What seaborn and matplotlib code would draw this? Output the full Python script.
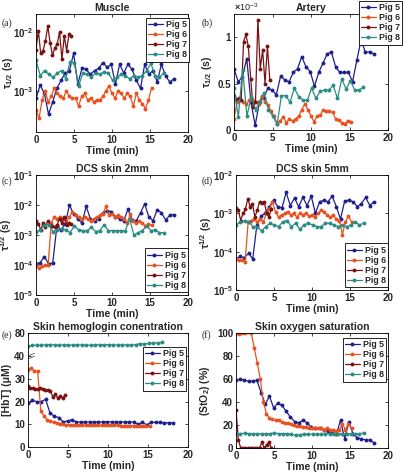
import numpy as np
import pandas as pd
import matplotlib
matplotlib.use("Agg")
import matplotlib.pyplot as plt
from matplotlib.lines import Line2D
from matplotlib.ticker import FixedLocator, FuncFormatter, NullLocator
import seaborn as sns

# --- data -----------------------------------------------------------------
pigs = ["Pig 5", "Pig 6", "Pig 7", "Pig 8"]

# sampling times (min) for each pig
t5 = [0.0, 0.55, 1.1, 1.65, 2.2, 2.75, 3.3, 3.85, 4.4, 4.95, 5.5, 6.05, 6.6, 7.15, 7.7, 8.25, 8.8,
      9.35, 9.9, 10.45, 11.0, 11.55, 12.1, 12.65, 13.2, 13.75, 14.3, 14.85, 15.4, 15.95, 16.5,
      17.05, 17.6, 18.15]
t6 = [0.0, 0.4, 0.8, 1.2, 1.6, 2.0, 2.4, 2.8, 3.2, 3.6, 4.0, 4.4, 4.8, 5.2, 5.6, 6.0, 6.4, 6.8,
      7.2, 7.6, 8.0, 8.4, 8.8, 9.2, 9.6, 10.0, 10.4, 10.8, 11.2, 11.6, 12.0, 12.4, 12.8, 13.2,
      13.6, 14.0, 14.4, 14.8, 15.2]
t7 = [0.0, 0.31, 0.62, 0.93, 1.24, 1.55, 1.86, 2.17, 2.48, 2.79, 3.1, 3.41, 3.72, 4.03, 4.34, 4.65]
t8 = [0.0, 0.56, 1.12, 1.68, 2.24, 2.8, 3.36, 3.92, 4.48, 5.04, 5.6, 6.16, 6.72, 7.28, 7.84, 8.4,
      8.96, 9.52, 10.08, 10.64, 11.2, 11.76, 12.32, 12.88, 13.44, 14.0, 14.56, 15.12, 15.68,
      16.24, 16.8]

# (a) Muscle, tau_1/2 in ms
muscle5 = [0.74, 1.25, 0.9, 0.4, 0.65, 1.1, 1.5, 2.0, 2.2, 4.3, 1.3, 2.4, 2.3, 1.9, 2.2, 2.4, 3.0,
           2.5, 2.8, 1.3, 2.8, 2.0, 2.8, 2.3, 1.5, 1.1, 2.8, 1.9, 2.2, 1.4, 2.8, 1.8, 1.4, 1.6]
muscle6 = [0.48, 0.34, 0.7, 1.0, 0.65, 0.8, 1.1, 0.9, 0.8, 0.75, 1.0, 0.8, 0.75, 0.75, 0.55, 0.8,
           0.9, 0.7, 0.75, 0.65, 0.7, 0.7, 0.8, 1.0, 1.2, 0.9, 0.75, 1.0, 0.9, 0.75, 0.9, 0.8,
           0.55, 0.9, 0.7, 0.6, 0.5, 0.7, 1.1]
muscle7 = [5.0, 10.5, 4.3, 4.8, 7.0, 12.5, 6.5, 4.0, 5.3, 6.2, 10.0, 3.4, 8.5, 4.8, 9.3, 8.5]
muscle8 = [3.3, 1.8, 2.2, 1.9, 1.7, 2.0, 2.2, 1.6, 3.1, 3.0, 1.2, 2.0, 1.9, 1.7, 2.0, 1.9, 2.1,
           2.0, 1.5, 1.7, 1.9, 1.8, 1.6, 1.8, 1.7, 1.8, 2.2, 2.9, 1.8, 1.7, 2.0]

# (b) Artery, tau_1/2 in ms
artery5 = [0.66, 0.52, 0.57, 0.77, 0.30, 0.05, 0.30, 0.35, 0.45, 0.43, 0.38, 0.58, 0.54, 0.52,
           0.62, 0.66, 0.79, 0.68, 0.63, 0.47, 0.62, 0.72, 0.82, 0.84, 0.68, 0.62, 0.62, 0.62,
           0.52, 0.75, 0.97, 0.84, 0.84, 0.82]
artery6 = [0.12, 0.30, 0.32, 0.30, 0.28, 0.32, 0.33, 0.30, 0.28, 0.37, 0.30, 0.27, 0.20, 0.15,
           0.07, 0.10, 0.14, 0.08, 0.12, 0.10, 0.12, 0.15, 0.22, 0.28, 0.22, 0.15, 0.09, 0.15,
           0.16, 0.22, 0.20, 0.20, 0.19, 0.12, 0.11, 0.08, 0.07, 0.10, 0.09]
artery7 = [0.37, 0.33, 0.34, 0.32, 0.95, 1.03, 0.90, 0.55, 0.25, 0.30, 1.19, 0.66, 0.86, 0.50,
           0.90, 0.54]
artery8 = [0.45, 0.14, 0.65, 0.15, 0.36, 0.22, 0.30, 0.40, 0.22, 0.15, 0.06, 0.37, 0.37, 0.30,
           0.45, 0.36, 0.32, 0.32, 0.45, 0.34, 0.42, 0.43, 0.43, 0.48, 0.34, 0.55, 0.44, 0.53,
           0.43, 0.43, 0.46]

# (c) DCS skin 2mm, ms
skin2_5 = [0.11, 0.12, 0.19, 0.11, 0.115, 2.0, 1.5, 2.4, 10.0, 5.0, 3.5, 2.5, 9.0, 3.5, 3.0, 3.5,
           5.5, 6.5, 6.0, 4.0, 3.5, 3.0, 7.2, 3.2, 3.0, 5.5, 11.0, 4.0, 3.0, 7.0, 5.5, 3.2, 4.5, 4.8]
skin2_6 = [0.09, 0.08, 0.09, 0.10, 0.10, 2.5, 4.0, 3.5, 4.0, 3.5, 3.0, 4.0, 6.0, 4.5, 4.0, 3.5,
           4.0, 3.5, 3.0, 3.5, 4.0, 4.5, 5.0, 9.0, 4.5, 5.0, 4.0, 4.5, 4.0, 3.5, 2.5, 5.0, 3.0,
           2.5, 3.0, 2.5, 2.0, 2.3, 2.2]
skin2_7 = [3.0, 2.4, 1.5, 2.5, 1.8, 3.0, 2.2, 2.0, 1.8, 2.2, 3.5, 2.5, 4.0, 2.2, 2.5, 2.3]
skin2_8 = [1.3, 1.5, 2.2, 2.2, 1.3, 1.5, 1.6, 1.5, 1.2, 2.0, 1.5, 1.4, 1.4, 1.8, 1.3, 1.4, 2.2,
           1.4, 1.4, 1.4, 1.4, 1.4, 3.5, 1.0, 1.2, 1.4, 2.0, 1.4, 1.5, 1.2, 1.2]

# (d) DCS skin 5mm, ms
skin5_5 = [0.065, 0.075, 0.07, 0.09, 0.065, 0.5, 0.85, 1.0, 1.5, 2.2, 1.5, 1.4, 3.5, 1.6, 2.5,
           1.5, 2.6, 1.6, 2.8, 1.0, 2.0, 2.2, 2.0, 2.8, 1.5, 0.7, 2.1, 2.2, 2.0, 1.5, 1.8, 2.6,
           1.6, 2.0]
skin5_6 = [0.065, 0.06, 0.06, 0.055, 0.6, 0.65, 0.7, 0.6, 0.7, 0.6, 1.0, 1.3, 2.0, 1.1, 0.8, 0.9,
           1.0, 1.1, 0.9, 1.0, 0.8, 1.0, 0.9, 1.0, 0.85, 0.9, 0.8, 1.0, 1.2, 1.1, 0.9, 0.8, 0.9,
           0.7, 0.65, 0.28, 0.6, 0.85, 0.6]
skin5_7 = [1.4, 1.2, 0.65, 1.0, 1.3, 2.4, 1.5, 1.8, 0.8, 1.2, 2.0, 1.9, 2.0, 1.0, 0.8, 1.3]
skin5_8 = [0.5, 0.6, 0.65, 0.6, 0.45, 0.45, 0.35, 0.45, 0.55, 0.5, 0.45, 0.6, 0.65, 0.45, 0.55,
           0.38, 0.5, 0.55, 0.5, 0.45, 0.45, 0.55, 0.55, 0.5, 0.45, 0.5, 0.45, 0.5, 0.6, 0.5, 0.55]

# (e) [HbT] in uM
hbt5 = [19.5, 20.5, 20.0, 20.0, 21.0, 15.0, 13.5, 13.0, 11.0, 11.5, 12.0, 11.0, 11.0, 11.0, 11.0,
        11.0, 11.0, 11.0, 11.2, 11.0, 11.0, 11.0, 11.0, 11.0, 11.0, 10.0, 10.8, 9.8, 11.0, 10.8,
        10.8, 10.7, 10.6, 10.5]
hbt6 = [34.0, 35.0, 33.5, 33.5, 16.0, 13.5, 12.0, 11.3, 10.8, 10.5, 10.2, 10.0, 9.8, 9.7, 9.7,
        9.6, 9.5, 9.5, 9.5, 9.5, 9.5, 9.5, 9.5, 9.5, 9.5, 9.5, 9.5, 9.5, 9.5, 9.4, 9.4, 9.4, 9.4,
        9.4, 9.3, 9.3, 9.3, 9.3, 9.2]
hbt7 = [27.0, 26.0, 25.8, 25.5, 25.5, 25.8, 25.5, 25.2, 25.0, 24.8, 22.0, 23.5, 21.5, 22.5, 21.5,
        22.8]
hbt8 = [57.0, 59.0, 59.0, 58.5, 60.0, 60.0, 59.5, 59.0, 59.5, 59.5, 59.0, 59.5, 59.5, 59.0, 59.0,
        59.5, 60.0, 59.5, 60.0, 59.5, 59.0, 59.5, 59.5, 59.0, 60.0, 61.5, 61.0, 62.0, 62.5, 63.0,
        64.0]

# (f) StO2 in %
sto5 = [59, 60, 59, 58, 58, 59, 48, 38, 45, 35, 39, 37, 32, 27, 23, 22, 24, 22, 18, 17, 17, 16,
        15, 13, 12, 24, 8, 23, 12, 9, 8, 7, 7, 4.5]
sto6 = [100, 99, 100, 100, 101, 100, 87, 74, 60, 40, 30, 26, 25, 24, 24, 23, 22, 22, 21, 20, 19,
        19, 18, 18, 17, 17, 17, 17, 17, 16, 17, 16, 16, 15, 16, 21, 16, 21, 17]
sto7 = [33, 7, 0, 0, 0, 0, 0, 0, 0, 0, 0, 5, 0, 3, 5, 0]
sto8 = [12.5, 12.5, 12.8, 12.5, 12.5, 12.0, 12.5, 12.5, 12.5, 13.0, 12.5, 12.5, 12.5, 12.0, 11.0,
        11.5, 12.0, 12.0, 12.0, 12.0, 12.0, 12.0, 12.5, 12.5, 12.0, 12.5, 12.5, 12.5, 12.5, 12.5,
        13.0]

times = [t5, t6, t7, t8]
colors = ["#1f1f8c", "#e8521f", "#7a1212", "#2a8c84"]

# --- style ----------------------------------------------------------------
sns.set_style("ticks")
plt.rcParams["font.family"] = ["Liberation Sans", "DejaVu Sans"]
plt.rcParams["font.weight"] = "bold"
plt.rcParams["mathtext.fontset"] = "custom"
plt.rcParams["mathtext.rm"] = "Liberation Sans:bold"
plt.rcParams["mathtext.it"] = "Liberation Sans:italic:bold"
plt.rcParams["mathtext.bf"] = "Liberation Sans:bold"
plt.rcParams["mathtext.default"] = "rm"

W, H = 403, 474
fig = plt.figure(figsize=(W / 100, H / 100), dpi=100)


def px_axes(left, top, right, bottom):
    ax = fig.add_axes([left / W, 1 - bottom / H, (right - left) / W, (bottom - top) / H])
    ax._px = (left, right)
    return ax


def ylab(ax, text, xc):
    # place the y label so that its centre sits at pixel column xc
    left, right = ax._px
    ax.set_ylabel(text, fontsize=7.5, fontweight="bold")
    ax.yaxis.set_label_coords((xc + 4.5 - left) / (right - left), 0.5)


def draw(ax, series, scale=1.0):
    frames = []
    for pig, t, v in zip(pigs, times, series):
        frames.append(pd.DataFrame({"Time": t, "value": np.asarray(v, float) * scale, "pig": pig}))
    df = pd.concat(frames, ignore_index=True)
    sns.lineplot(data=df, x="Time", y="value", hue="pig", hue_order=pigs, palette=colors,
                 estimator=None, sort=False, marker="o", markersize=2.8, markeredgewidth=0,
                 linewidth=0.9, legend=False, ax=ax)
    ax.set_xlim(0, 20)
    ax.xaxis.set_major_locator(FixedLocator([0, 5, 10, 15, 20]))
    ax.set_xlabel("Time (min)", fontsize=7.5, fontweight="bold", labelpad=1)
    ax.tick_params(direction="in", length=2.5, width=0.6, top=True, right=True,
                   labelsize=7, pad=2)
    for s in ax.spines.values():
        s.set_linewidth(0.6)
        s.set_color("black")


handles = [Line2D([], [], color=c, marker="o", markersize=2.8, markeredgewidth=0, lw=0.9)
           for c in colors]


def legend(ax, loc, x, y):
    leg = ax.legend(handles, pigs, loc=loc, bbox_to_anchor=(x / W, 1 - y / H),
                    bbox_transform=fig.transFigure, frameon=True, fancybox=False,
                    edgecolor="black", framealpha=1, fontsize=6.3, handlelength=1.7,
                    handletextpad=0.35, labelspacing=0.12, borderpad=0.25, borderaxespad=0)
    leg.get_frame().set_linewidth(0.6)


def panel_label(x, y, s):
    fig.text(x / W, 1 - y / H, s, fontsize=7, fontweight="normal",
             family="Liberation Serif", va="center", ha="left")


# (a) Muscle
ax = px_axes(36, 14, 188, 132)
ax.set_yscale("log")
draw(ax, [muscle5, muscle6, muscle7, muscle8], 1e-3)
ax.set_ylim(2e-4, 2e-2)
ax.yaxis.set_major_locator(FixedLocator([1e-3, 1e-2]))
ax.yaxis.set_minor_locator(NullLocator())
ylab(ax, r"$\tau_{1/2}$ (s)", 11)
ax.set_title("Muscle", fontsize=7.5, fontweight="bold", pad=2)
legend(ax, "upper right", 189, 18)
panel_label(2, 23, "(a)")

# (b) Artery
ax = px_axes(234, 14, 388, 130)
draw(ax, [artery5, artery6, artery7, artery8])
ax.set_ylim(0, 1.25)
ax.yaxis.set_major_locator(FixedLocator([0, 0.5, 1]))
ax.yaxis.set_major_formatter(FuncFormatter(lambda v, p: f"{v:g}"))
ylab(ax, r"$\tau_{1/2}$ (s)", 209)
ax.set_title("Artery", fontsize=7.5, fontweight="bold", pad=2)
ax.text(0.0, 1.01, r"$\times\mathregular{10^{-3}}$", transform=ax.transAxes,
        fontsize=6.5, fontweight="normal", ha="left", va="bottom")
legend(ax, "upper right", 402, 1)
panel_label(202, 23, "(b)")

# (c) DCS skin 2mm
ax = px_axes(36, 175, 188, 295)
ax.set_yscale("log")
draw(ax, [skin2_5, skin2_6, skin2_7, skin2_8], 1e-3)
ax.set_ylim(1e-5, 1e-1)
ax.yaxis.set_major_locator(FixedLocator([1e-5, 1e-4, 1e-3, 1e-2, 1e-1]))
ax.yaxis.set_minor_locator(NullLocator())
ylab(ax, r"$\tau^{1/2}$ (s)", 10)
ax.set_title("DCS skin 2mm", fontsize=7.5, fontweight="bold", pad=2)
legend(ax, "lower right", 188, 292)
panel_label(2, 181, "(c)")

# (d) DCS skin 5mm
ax = px_axes(236, 175, 388, 290)
ax.set_yscale("log")
draw(ax, [skin5_5, skin5_6, skin5_7, skin5_8], 1e-3)
ax.set_ylim(1e-5, 1e-2)
ax.yaxis.set_major_locator(FixedLocator([1e-5, 1e-4, 1e-3, 1e-2]))
ax.yaxis.set_minor_locator(NullLocator())
ylab(ax, r"$\tau^{1/2}$ (s)", 210)
ax.set_title("DCS skin 5mm", fontsize=7.5, fontweight="bold", pad=2)
legend(ax, "lower right", 388, 287)
panel_label(202, 181, "(d)")


# (e) HbT, y axis compressed above 40
def fwd(y):
    y = np.asarray(y, dtype=float)
    return np.where(y <= 40, y, 40 + (y - 40) * 0.256)


def inv(y):
    y = np.asarray(y, dtype=float)
    return np.where(y <= 40, y, 40 + (y - 40) / 0.256)


ax = px_axes(28, 333, 188, 447)
ax.set_yscale("function", functions=(fwd, inv))
draw(ax, [hbt5, hbt6, hbt7, hbt8])
ax.set_ylim(0, 80)
ax.yaxis.set_major_locator(FixedLocator([0, 10, 20, 30, 40, 80]))
ax.yaxis.set_minor_locator(NullLocator())
ax.yaxis.set_major_formatter(FuncFormatter(lambda v, p: f"{v:g}"))
ylab(ax, "[HbT] (μM)", 8)
ax.set_title("Skin hemoglogin conentration", fontsize=7.5, fontweight="bold", pad=2)
brk = fwd(40) / fwd(80)
for dy in (0.0, 0.025):
    ax.plot([0.005, 0.04], [brk - 0.02 + dy, brk + dy], transform=ax.transAxes,
            color="#555555", lw=0.6, clip_on=False)
legend(ax, "upper right", 186, 347)
panel_label(2, 335, "(e)")

# (f) StO2
ax = px_axes(236, 333, 388, 448)
draw(ax, [sto5, sto6, sto7, sto8])
ax.set_ylim(0, 100)
ax.yaxis.set_major_locator(FixedLocator([0, 20, 40, 60, 80, 100]))
ylab(ax, r"(StO$_2$) (%)", 208)
ax.set_title("Skin oxygen saturation", fontsize=7.5, fontweight="bold", pad=2)
legend(ax, "upper right", 386, 338)
panel_label(202, 335, "(f)")

fig.savefig("out.png", dpi=100, facecolor="white")
